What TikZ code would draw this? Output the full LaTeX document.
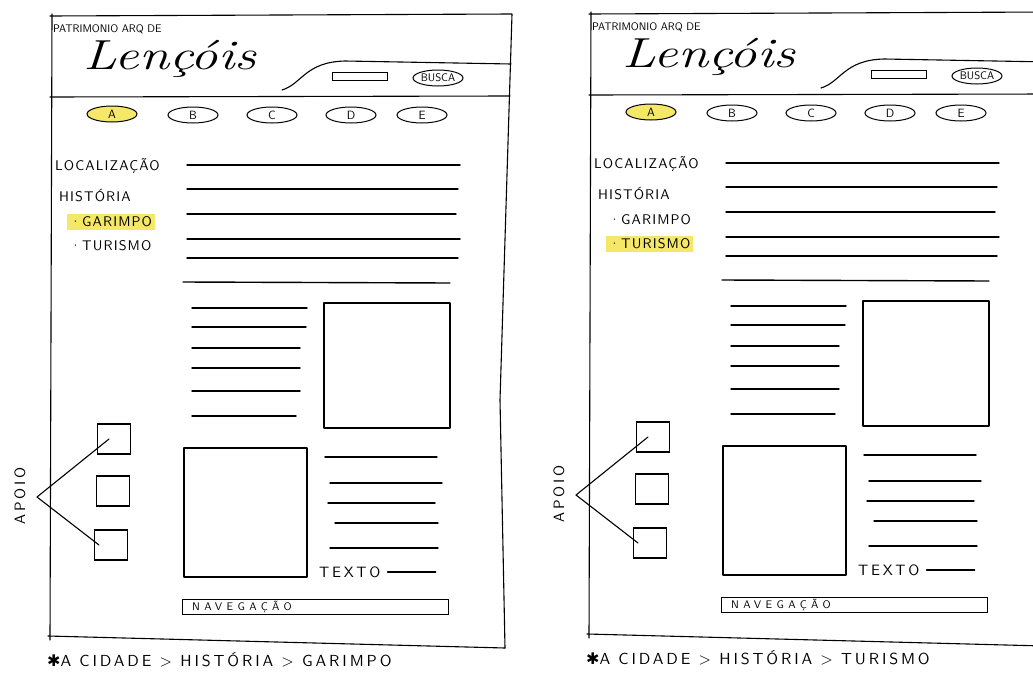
\documentclass[tikz,border=0pt]{standalone}
\usepackage{fontspec}
\newfontfamily\dejavu{DejaVu Sans}
\newfontfamily\handfont[LetterSpace=8]{lmsans10-regular.otf}
\newfontfamily\crumbfont[LetterSpace=18]{lmsans10-regular.otf}
\newfontfamily\navfont[LetterSpace=40]{lmsans10-regular.otf}
\usetikzlibrary{shapes.geometric}
\definecolor{hlyellow}{RGB}{245,232,105}

\tikzset{
 ink/.style={line width=1.1pt, line cap=round, line join=round},
 txtline/.style={line width=1.4pt, line cap=round},
 oval/.style={ellipse, draw, line width=1pt, minimum width=50pt, minimum height=16pt, inner sep=0pt, font=\sffamily\fontsize{12}{12}\selectfont},
 hand/.style={inner sep=1pt, font=\handfont\fontsize{14}{14}\selectfont},
 wide/.style={inner sep=1pt, font=\crumbfont\fontsize{15}{15}\selectfont},
 menu/.style={hand, anchor=west, inner sep=3pt},
 sel/.style={fill=hlyellow},
 nosel/.style={},
 supbox/.style={draw, line width=1.1pt, minimum width=33pt, minimum height=30pt, inner sep=0pt},
}

% one sketched page: #1 name prefix, #2 shift, #3/#4 styles of the sub items, #5 last crumb
\newcommand{\wirepage}[5]{
\begin{scope}[shift={#2}]
% page outline and header
\draw[ink] (52,14) -- (50,640);
\draw[ink] (50,16) -- (512,14) -- (500,400) -- (505,648);
\draw[ink] (48,636) -- (505,648);
\draw[ink] (50,97) -- (510,96);
\draw[ink] (282,90) .. controls (302,84) and (305,62) .. (345,61) -- (511,64);
\node[anchor=west, inner sep=0pt, font=\sffamily\fontsize{11}{11}\selectfont] (#1-arq) at (53,29) {PATRIMONIO ARQ DE};
\node (#1-title) at (170,59) {\scalebox{1.3}[1]{\fontsize{42}{42}\selectfont\itshape Lençóis}};
\node[draw, line width=1pt, minimum width=55pt, minimum height=8pt, inner sep=0pt] (#1-input) at (360,76) {};
\node[oval, minimum width=50pt, font=\sffamily\fontsize{11}{11}\selectfont] (#1-busca) at (438,78) {BUSCA};
% menu A..E
\node[oval, fill=hlyellow] (#1-navA) at (112,114) {A};
\foreach \n/\x in {B/193,C/272,D/351,E/422}
 \node[oval] (#1-nav\n) at (\x,115) {\n};
% side menu
\node[menu] (#1-loc) at (52,166) {LOCALIZAÇÃO};
\node[menu] (#1-hist) at (56,196) {HISTÓRIA};
\node[menu, #3] (#1-gar) at (67,222) {·GARIMPO};
\node[menu, #4] (#1-tur) at (67,246) {·TURISMO};
% text
\foreach \y/\e in {165/460,189/458,214/456,239/460,258/458}
 \draw[txtline] (187,\y) -- (\e,\y);
\draw[txtline] (183,282) -- (450,283);
\foreach \y/\e in {308/307,327/306,348/300,368/300,391/300,416/296}
 \draw[txtline] (192,\y) -- (\e,\y);
\draw[ink] (324,303) rectangle (450,428);
\draw[ink] (184,448) rectangle (307,577);
\foreach \s/\y/\e in {325/457/437,330/483/442,328/503/435,335/523/438,330/548/438}
 \draw[txtline] (\s,\y) -- (\e,\y);
\node[wide, anchor=west] (#1-texto) at (318,572) {TEXTO};
\draw[txtline] ([xshift=6pt]#1-texto.east) -- ++(48,0);
\node[draw, line width=1.1pt, anchor=west, minimum width=266pt, minimum height=15pt, inner sep=0pt] (#1-navbar) at (182,607) {};
\node[anchor=west, inner sep=0pt, font=\navfont\fontsize{11}{11}\selectfont] (#1-navtxt) at ([xshift=10pt]#1-navbar.west) {NAVEGAÇÃO};
% apoio
\node[supbox] (#1-sup1) at (114,439) {};
\node[supbox] (#1-sup2) at (113,491) {};
\node[supbox] (#1-sup3) at (111,545) {};
\node[wide, rotate=90] (#1-apoio) at (20,496) {APOIO};
\coordinate (#1-apex) at (37,497);
\draw[ink] (#1-apex) -- ([xshift=-5pt]#1-sup1.center);
\draw[ink] (#1-apex) -- ([xshift=-12pt]#1-sup3.center);
% breadcrumb
\node[wide, anchor=west, font=\crumbfont\fontsize{16}{16}\selectfont] (#1-crumb) at (46,660) {{\dejavu ✱}A CIDADE > HISTÓRIA > #5};
\end{scope}}

\begin{document}
\begin{tikzpicture}[x=1pt,y=-1pt]
\useasboundingbox (0,0) rectangle (1033,672);
\clip (0,0) rectangle (1033,672);
\wirepage{L}{(0,0)}{sel}{nosel}{GARIMPO}
\wirepage{R}{(539,-2)}{nosel}{sel}{TURISMO}
\end{tikzpicture}
\end{document}
